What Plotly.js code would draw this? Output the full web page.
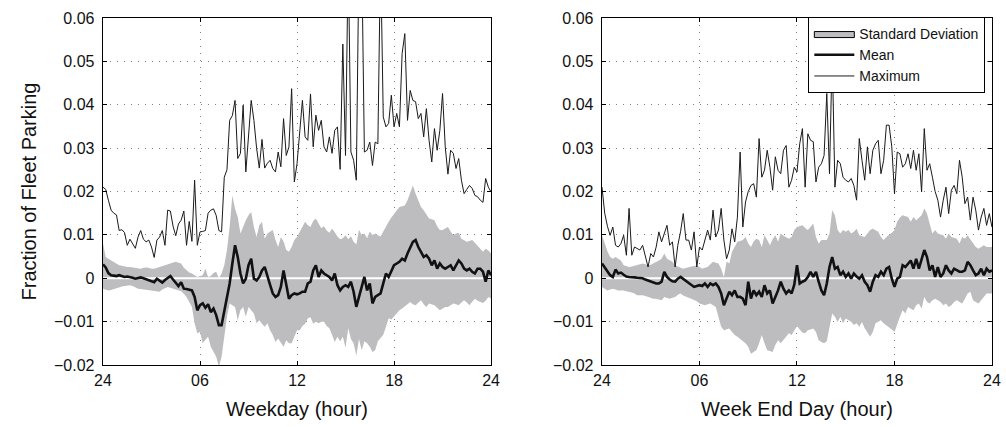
<!DOCTYPE html>
<html>
<head>
<meta charset="utf-8">
<script src="https://cdn.plot.ly/plotly-3.0.1.min.js"></script>
<style>
  html, body { margin: 0; padding: 0; background: #fff; }
  #chart { width: 1006px; height: 427px; }
  /* outline the shaded-band swatch in the legend */
  #chart .legendfill path { stroke: #000 !important; stroke-width: 1px !important; }
</style>
</head>
<body>
<div id="chart"></div>
<script>
// Fleet parking fraction over a day, sampled every 10 minutes (145 samples, 0..24 h).
const hours = Array.from({ length: 145 }, (_, i) => i / 6);

const hourTicks = [0, 6, 12, 18, 24];
const hourLabels = ['24', '06', '12', '18', '24'];
const fracTicks = [-0.02, -0.01, 0, 0.01, 0.02, 0.03, 0.04, 0.05, 0.06];
const fracLabels = ['\u22120.02', '\u22120.01', '0', '0.01', '0.02', '0.03', '0.04', '0.05', '0.06'];
const baselineX = [0, 24];
const baselineY = [0, 0];

// ---- Weekday ----
const weekdayMax = [
  0.0210,0.0205,0.0180,0.0157,0.0150,0.0146,0.0110,0.0112,0.0105,0.0076,
  0.0090,0.0080,0.0069,0.0095,0.0110,0.0090,0.0084,0.0088,0.0072,0.0048,
  0.0088,0.0095,0.0110,0.0076,0.0157,0.0155,0.0120,0.0098,0.0125,0.0134,
  0.0155,0.0076,0.0131,0.0085,0.0226,0.0076,0.0107,0.0108,0.0110,0.0150,
  0.0157,0.0160,0.0145,0.0110,0.0107,0.0233,0.0250,0.0364,0.0375,0.0410,
  0.0276,0.0288,0.0399,0.0245,0.0330,0.0410,0.0364,0.0300,0.0254,0.0320,
  0.0254,0.0265,0.0272,0.0253,0.0245,0.0291,0.0257,0.0368,0.0283,0.0303,
  0.0437,0.0222,0.0264,0.0330,0.0410,0.0326,0.0318,0.0425,0.0303,0.0376,
  0.0341,0.0364,0.0303,0.0291,0.0326,0.0288,0.0341,0.0349,0.0251,0.0540,
  0.0283,0.0750,0.0291,0.0272,0.0226,0.0750,0.0750,0.0291,0.0295,0.0314,
  0.0260,0.0314,0.0310,0.0750,0.0372,0.0349,0.0357,0.0422,0.0349,0.0380,
  0.0349,0.0518,0.0564,0.0364,0.0433,0.0410,0.0407,0.0368,0.0380,0.0326,
  0.0391,0.0318,0.0268,0.0345,0.0295,0.0341,0.0426,0.0303,0.0240,0.0295,
  0.0288,0.0253,0.0276,0.0226,0.0195,0.0205,0.0214,0.0207,0.0191,0.0188,
  0.0180,0.0175,0.0230,0.0210,0.0199
];
const weekdayMean = [
  0.0032,0.0025,0.0012,0.0007,0.0006,0.0005,0.0007,0.0005,0.0003,0.0004,
  0.0003,0.0001,-0.0001,0.0001,0.0002,0.0000,-0.0002,-0.0004,-0.0006,-0.0009,
  -0.0001,-0.0005,-0.0010,-0.0004,0.0000,0.0005,-0.0003,-0.0012,-0.0018,-0.0009,
  -0.0024,-0.0025,-0.0027,-0.0028,-0.0043,-0.0074,-0.0062,-0.0058,-0.0068,-0.0060,
  -0.0078,-0.0070,-0.0085,-0.0108,-0.0108,-0.0075,-0.0051,-0.0012,0.0034,0.0076,
  0.0049,0.0011,-0.0012,-0.0001,0.0030,0.0045,-0.0001,-0.0005,0.0003,0.0018,
  0.0026,0.0003,-0.0015,-0.0035,-0.0043,-0.0039,-0.0020,0.0018,-0.0012,-0.0047,
  -0.0039,-0.0035,-0.0037,-0.0035,-0.0031,-0.0031,-0.0012,-0.0008,0.0018,0.0030,
  0.0003,0.0018,0.0011,0.0006,0.0003,-0.0005,0.0011,-0.0016,-0.0028,-0.0020,
  -0.0016,-0.0020,-0.0008,-0.0031,-0.0066,-0.0043,-0.0020,0.0003,-0.0028,-0.0012,
  -0.0058,-0.0043,-0.0039,-0.0035,-0.0012,0.0011,0.0003,0.0018,0.0030,0.0034,
  0.0038,0.0045,0.0041,0.0057,0.0072,0.0084,0.0088,0.0072,0.0061,0.0049,
  0.0053,0.0045,0.0030,0.0041,0.0022,0.0034,0.0026,0.0022,0.0026,0.0030,
  0.0018,0.0030,0.0041,0.0034,0.0022,0.0018,0.0022,0.0015,0.0011,0.0022,
  0.0022,0.0015,-0.0008,0.0018,0.0007
];
const weekdaySdUpper = [
  0.0080,0.0049,0.0045,0.0041,0.0036,0.0034,0.0030,0.0029,0.0027,0.0026,
  0.0026,0.0025,0.0024,0.0023,0.0022,0.0024,0.0025,0.0024,0.0022,0.0022,
  0.0024,0.0026,0.0028,0.0030,0.0032,0.0034,0.0036,0.0038,0.0036,0.0034,
  0.0024,0.0018,0.0013,0.0011,0.0006,0.0003,0.0005,0.0007,0.0022,0.0003,
  0.0005,0.0012,0.0015,0.0000,0.0011,0.0030,0.0065,0.0118,0.0191,0.0160,
  0.0141,0.0103,0.0118,0.0134,0.0145,0.0153,0.0118,0.0095,0.0122,0.0130,
  0.0091,0.0103,0.0107,0.0111,0.0088,0.0072,0.0095,0.0085,0.0065,0.0061,
  0.0072,0.0088,0.0095,0.0108,0.0118,0.0130,0.0122,0.0118,0.0132,0.0138,
  0.0126,0.0115,0.0120,0.0110,0.0105,0.0114,0.0106,0.0096,0.0090,0.0092,
  0.0099,0.0090,0.0097,0.0084,0.0078,0.0112,0.0100,0.0103,0.0092,0.0108,
  0.0100,0.0103,0.0099,0.0096,0.0108,0.0120,0.0130,0.0140,0.0149,0.0158,
  0.0164,0.0166,0.0168,0.0180,0.0199,0.0214,0.0195,0.0180,0.0164,0.0157,
  0.0148,0.0138,0.0136,0.0134,0.0120,0.0111,0.0111,0.0115,0.0118,0.0108,
  0.0099,0.0103,0.0105,0.0091,0.0088,0.0084,0.0086,0.0088,0.0082,0.0076,
  0.0068,0.0061,0.0068,0.0064,0.0057
];
const weekdaySdLower = [
  -0.0024,-0.0026,-0.0028,-0.0027,-0.0025,-0.0022,-0.0020,-0.0019,-0.0018,-0.0017,
  -0.0016,-0.0018,-0.0021,-0.0024,-0.0025,-0.0026,-0.0027,-0.0028,-0.0029,-0.0030,
  -0.0031,-0.0031,-0.0026,-0.0022,-0.0020,-0.0022,-0.0024,-0.0026,-0.0028,-0.0030,
  -0.0036,-0.0043,-0.0055,-0.0066,-0.0104,-0.0127,-0.0124,-0.0150,-0.0142,-0.0135,
  -0.0158,-0.0170,-0.0181,-0.0204,-0.0181,-0.0135,-0.0089,-0.0058,-0.0062,-0.0066,
  -0.0097,-0.0074,-0.0066,-0.0089,-0.0066,-0.0074,-0.0081,-0.0104,-0.0097,-0.0105,
  -0.0112,-0.0104,-0.0120,-0.0131,-0.0147,-0.0139,-0.0150,-0.0158,-0.0143,-0.0150,
  -0.0150,-0.0135,-0.0120,-0.0120,-0.0110,-0.0105,-0.0092,-0.0090,-0.0105,-0.0100,
  -0.0104,-0.0100,-0.0100,-0.0110,-0.0115,-0.0130,-0.0147,-0.0135,-0.0145,-0.0135,
  -0.0160,-0.0115,-0.0140,-0.0150,-0.0178,-0.0140,-0.0166,-0.0145,-0.0150,-0.0158,
  -0.0170,-0.0166,-0.0145,-0.0138,-0.0130,-0.0112,-0.0092,-0.0095,-0.0088,-0.0081,
  -0.0074,-0.0070,-0.0066,-0.0060,-0.0055,-0.0060,-0.0062,-0.0056,-0.0051,-0.0060,
  -0.0066,-0.0058,-0.0060,-0.0062,-0.0068,-0.0074,-0.0070,-0.0066,-0.0066,-0.0062,
  -0.0058,-0.0060,-0.0062,-0.0056,-0.0051,-0.0056,-0.0062,-0.0054,-0.0047,-0.0052,
  -0.0055,-0.0057,-0.0052,-0.0043,-0.0047
];

// ---- Week end day ----
const weekendMax = [
  0.0210,0.0150,0.0120,0.0099,0.0118,0.0076,0.0072,0.0080,0.0099,0.0053,
  0.0161,0.0053,0.0072,0.0068,0.0065,0.0076,0.0049,0.0026,0.0057,0.0049,
  0.0072,0.0107,0.0084,0.0103,0.0122,0.0076,0.0084,0.0026,0.0076,0.0107,
  0.0149,0.0088,0.0088,0.0065,0.0107,0.0026,0.0072,0.0065,0.0091,0.0111,
  0.0088,0.0157,0.0095,0.0111,0.0161,0.0088,0.0045,0.0065,0.0114,0.0084,
  0.0141,0.0291,0.0118,0.0176,0.0200,0.0214,0.0218,0.0187,0.0322,0.0233,
  0.0249,0.0295,0.0256,0.0203,0.0280,0.0249,0.0241,0.0295,0.0306,0.0210,
  0.0226,0.0256,0.0245,0.0310,0.0345,0.0210,0.0333,0.0318,0.0315,0.0222,
  0.0256,0.0264,0.0283,0.0426,0.0241,0.0520,0.0210,0.0272,0.0264,0.0233,
  0.0226,0.0222,0.0230,0.0214,0.0180,0.0322,0.0272,0.0226,0.0303,0.0241,
  0.0295,0.0310,0.0318,0.0241,0.0272,0.0353,0.0353,0.0303,0.0195,0.0291,
  0.0287,0.0256,0.0264,0.0287,0.0253,0.0295,0.0249,0.0287,0.0199,0.0345,
  0.0249,0.0264,0.0233,0.0200,0.0180,0.0141,0.0180,0.0210,0.0149,0.0203,
  0.0214,0.0195,0.0272,0.0233,0.0172,0.0187,0.0134,0.0187,0.0157,0.0111,
  0.0141,0.0161,0.0122,0.0149,0.0118
];
const weekendMean = [
  0.0034,0.0025,0.0018,0.0007,0.0003,0.0020,0.0011,0.0013,0.0008,0.0004,
  0.0003,0.0003,0.0002,0.0001,0.0001,0.0000,-0.0003,-0.0005,-0.0008,-0.0010,
  -0.0012,-0.0012,-0.0008,0.0015,0.0003,-0.0003,-0.0007,-0.0008,-0.0001,0.0003,
  -0.0002,-0.0005,-0.0012,-0.0016,-0.0020,-0.0018,-0.0016,-0.0018,-0.0012,-0.0020,
  -0.0012,-0.0016,-0.0012,-0.0020,-0.0035,-0.0062,-0.0047,-0.0031,-0.0039,-0.0028,
  -0.0043,-0.0043,-0.0047,-0.0062,-0.0008,-0.0047,-0.0028,-0.0039,-0.0031,-0.0043,
  -0.0016,-0.0035,-0.0028,-0.0058,-0.0043,-0.0028,-0.0008,-0.0024,-0.0035,-0.0028,
  -0.0035,-0.0015,0.0030,-0.0012,-0.0008,-0.0005,0.0003,0.0015,0.0003,0.0015,
  -0.0008,-0.0028,-0.0039,-0.0012,0.0026,0.0049,0.0022,0.0026,0.0007,0.0015,
  0.0003,0.0011,-0.0001,0.0011,0.0004,-0.0001,0.0007,-0.0008,-0.0016,-0.0031,
  -0.0008,0.0007,0.0003,0.0015,0.0007,0.0022,0.0026,-0.0001,-0.0020,-0.0001,
  0.0003,0.0030,0.0026,0.0034,0.0041,0.0022,0.0045,0.0022,0.0045,0.0065,
  0.0049,0.0018,0.0030,0.0003,0.0026,0.0003,0.0011,0.0030,0.0018,0.0011,
  0.0022,0.0018,0.0015,0.0015,0.0018,0.0038,0.0030,0.0018,0.0007,0.0011,
  0.0022,0.0007,0.0022,0.0015,0.0018
];
const weekendSdUpper = [
  0.0099,0.0080,0.0062,0.0049,0.0045,0.0049,0.0045,0.0041,0.0030,0.0028,
  0.0026,0.0027,0.0029,0.0030,0.0032,0.0034,0.0032,0.0030,0.0031,0.0034,
  0.0038,0.0041,0.0045,0.0057,0.0045,0.0041,0.0038,0.0030,0.0026,0.0024,
  0.0022,0.0024,0.0026,0.0027,0.0028,0.0030,0.0026,0.0022,0.0024,0.0026,
  0.0032,0.0038,0.0036,0.0034,0.0022,0.0003,0.0038,0.0034,0.0061,0.0072,
  0.0084,0.0086,0.0088,0.0095,0.0080,0.0072,0.0085,0.0091,0.0088,0.0072,
  0.0099,0.0088,0.0076,0.0090,0.0099,0.0084,0.0103,0.0098,0.0095,0.0091,
  0.0095,0.0111,0.0118,0.0120,0.0122,0.0116,0.0111,0.0118,0.0126,0.0095,
  0.0080,0.0088,0.0088,0.0088,0.0103,0.0157,0.0145,0.0111,0.0103,0.0111,
  0.0107,0.0111,0.0103,0.0107,0.0114,0.0099,0.0097,0.0095,0.0103,0.0111,
  0.0114,0.0110,0.0107,0.0095,0.0088,0.0095,0.0099,0.0105,0.0111,0.0130,
  0.0140,0.0145,0.0143,0.0141,0.0130,0.0141,0.0134,0.0140,0.0145,0.0161,
  0.0149,0.0125,0.0103,0.0111,0.0103,0.0101,0.0099,0.0091,0.0103,0.0095,
  0.0093,0.0091,0.0080,0.0095,0.0091,0.0099,0.0090,0.0080,0.0072,0.0068,
  0.0072,0.0076,0.0072,0.0072,0.0072
];
const weekendSdLower = [
  -0.0020,-0.0024,-0.0028,-0.0026,-0.0024,-0.0026,-0.0028,-0.0028,-0.0028,-0.0030,
  -0.0031,-0.0033,-0.0035,-0.0039,-0.0039,-0.0039,-0.0041,-0.0043,-0.0045,-0.0047,
  -0.0047,-0.0049,-0.0051,-0.0043,-0.0045,-0.0047,-0.0045,-0.0043,-0.0038,-0.0035,
  -0.0040,-0.0043,-0.0045,-0.0047,-0.0050,-0.0053,-0.0058,-0.0060,-0.0062,-0.0060,
  -0.0058,-0.0062,-0.0066,-0.0089,-0.0112,-0.0120,-0.0118,-0.0116,-0.0124,-0.0131,
  -0.0135,-0.0140,-0.0147,-0.0150,-0.0158,-0.0174,-0.0170,-0.0166,-0.0150,-0.0131,
  -0.0150,-0.0166,-0.0168,-0.0170,-0.0154,-0.0143,-0.0150,-0.0142,-0.0135,-0.0127,
  -0.0131,-0.0120,-0.0110,-0.0118,-0.0125,-0.0127,-0.0120,-0.0118,-0.0116,-0.0124,
  -0.0143,-0.0147,-0.0150,-0.0145,-0.0110,-0.0081,-0.0089,-0.0101,-0.0089,-0.0104,
  -0.0093,-0.0097,-0.0100,-0.0108,-0.0104,-0.0112,-0.0101,-0.0115,-0.0124,-0.0135,
  -0.0124,-0.0104,-0.0100,-0.0097,-0.0104,-0.0108,-0.0112,-0.0118,-0.0124,-0.0104,
  -0.0089,-0.0074,-0.0081,-0.0066,-0.0070,-0.0074,-0.0062,-0.0058,-0.0070,-0.0043,
  -0.0055,-0.0058,-0.0051,-0.0047,-0.0051,-0.0055,-0.0062,-0.0058,-0.0066,-0.0062,
  -0.0055,-0.0051,-0.0055,-0.0058,-0.0047,-0.0035,-0.0031,-0.0051,-0.0055,-0.0058,
  -0.0051,-0.0043,-0.0035,-0.0035,-0.0035
];

const bandColor = '#bdbdc0';
const inkColor = '#111111';
const fontFamily = 'Liberation Sans, Arial, Helvetica, sans-serif';

function panelTraces(xa, ya, upper, lower, mean, max, withLegend) {
  return [
    { x: hours, y: lower, xaxis: xa, yaxis: ya, mode: 'lines', line: { width: 0 },
      showlegend: false, hoverinfo: 'skip' },
    { x: hours, y: upper, xaxis: xa, yaxis: ya, mode: 'lines', line: { width: 0 },
      fill: 'tonexty', fillcolor: bandColor, showlegend: false, hoverinfo: 'skip' },
    { x: baselineX, y: baselineY, xaxis: xa, yaxis: ya, mode: 'lines',
      line: { color: '#ffffff', width: 2.2 }, showlegend: false, hoverinfo: 'skip' },
    { x: hours, y: max, xaxis: xa, yaxis: ya, mode: 'lines', name: 'Maximum',
      line: { color: '#1a1a1a', width: 1 }, showlegend: withLegend, legendrank: 3 },
    { x: hours, y: mean, xaxis: xa, yaxis: ya, mode: 'lines', name: 'Mean',
      line: { color: inkColor, width: 2.6 }, showlegend: withLegend, legendrank: 2 }
  ];
}

const traces = [
  ...panelTraces('x', 'y', weekdaySdUpper, weekdaySdLower, weekdayMean, weekdayMax, false),
  ...panelTraces('x2', 'y2', weekendSdUpper, weekendSdLower, weekendMean, weekendMax, true),
  // legend swatch for the shaded band
  { x: [null], y: [null], xaxis: 'x2', yaxis: 'y2', mode: 'lines', name: 'Standard Deviation',
    fill: 'toself', fillcolor: bandColor, line: { color: bandColor, width: 0 },
    showlegend: true, legendrank: 1, hoverinfo: 'skip' }
];

function hourAxis(domain, title, anchor) {
  return {
    anchor: anchor, domain: domain, range: [0, 24],
    tickmode: 'array', tickvals: hourTicks, ticktext: hourLabels,
    ticks: 'inside', ticklen: 4, tickcolor: '#000', tickwidth: 1,
    showline: true, linecolor: '#000', linewidth: 1.3, mirror: 'ticks',
    showgrid: true, gridcolor: '#808080', gridwidth: 1, griddash: '1px,6px',
    zeroline: false, tickfont: { size: 16, color: inkColor },
    title: { text: title, font: { size: 20, color: inkColor }, standoff: 14 }
  };
}
function fracAxis(anchor, title) {
  const ax = {
    anchor: anchor, domain: [0, 1], range: [-0.02, 0.06],
    tickmode: 'array', tickvals: fracTicks, ticktext: fracLabels,
    ticks: 'inside', ticklen: 4, tickcolor: '#000', tickwidth: 1,
    showline: true, linecolor: '#000', linewidth: 1.3, mirror: 'ticks',
    showgrid: true, gridcolor: '#808080', gridwidth: 1, griddash: '1px,6px',
    zeroline: false, tickfont: { size: 16, color: inkColor }, ticklabelstandoff: 4
  };
  if (title) ax.title = { text: title, font: { size: 20, color: inkColor }, standoff: 12 };
  return ax;
}

const layout = {
  width: 1006, height: 427,
  margin: { l: 103, r: 14, t: 18, b: 62 },
  paper_bgcolor: '#ffffff', plot_bgcolor: '#ffffff',
  font: { family: fontFamily, color: inkColor },
  xaxis: hourAxis([0, 0.4365], 'Weekday (hour)', 'y'),
  yaxis: fracAxis('x', 'Fraction of Fleet Parking'),
  xaxis2: hourAxis([0.5613, 1], 'Week End Day (hour)', 'y2'),
  yaxis2: fracAxis('x2', null),
  showlegend: true,
  legend: {
    x: 0.9925, xanchor: 'right', y: 1.003, yanchor: 'top',
    bgcolor: '#ffffff', bordercolor: '#000', borderwidth: 1,
    font: { size: 14, color: inkColor }, tracegroupgap: 0, itemwidth: 40,
    traceorder: 'normal'
  }
};

Plotly.newPlot('chart', traces, layout, { displayModeBar: false, staticPlot: true });
</script>
</body>
</html>
